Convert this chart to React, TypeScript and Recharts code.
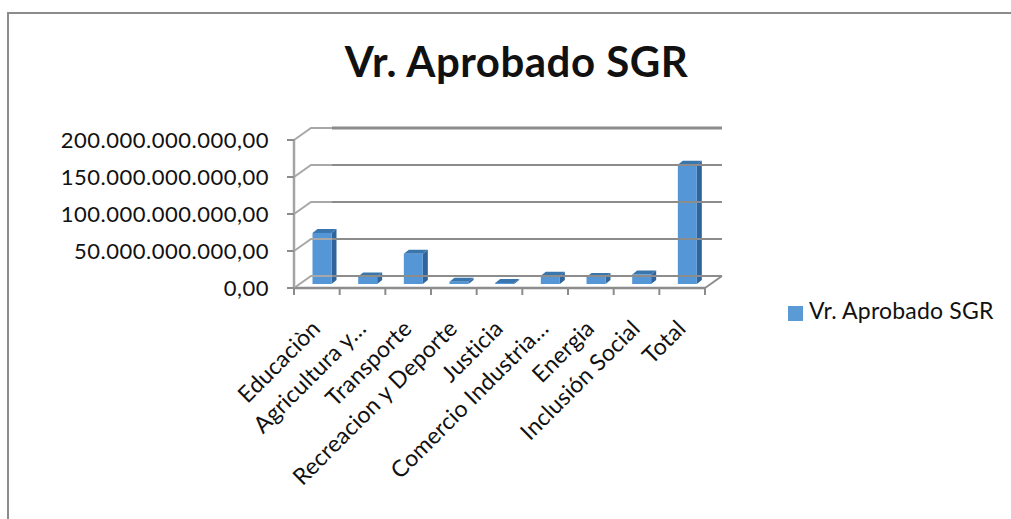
import { BarChart, Bar, XAxis, YAxis, ReferenceLine, Legend } from 'recharts';

const categories = [
  'Educaciòn',
  'Agricultura y…',
  'Transporte',
  'Recreacion y Deporte',
  'Justicia',
  'Comercio Industria…',
  'Energia',
  'Inclusión Social',
  'Total',
];
const aprobado = [69e9, 10e9, 41e9, 3e9, 1.5e9, 11e9, 9.5e9, 13e9, 161e9];
const yTicks = [0, 50e9, 100e9, 150e9, 200e9];

const data = categories.map((name, i) => ({ name, aprobado: aprobado[i] }));

const FONT = 'Lato, sans-serif';
const AXIS = '#8c8c8c';

// fake 3D: wall sits up and to the right of the front axes
const WALL_DX = 17;
const WALL_DY = -12;

const formatTick = (v: number) =>
  v.toLocaleString('de-DE', { minimumFractionDigits: 2, maximumFractionDigits: 2 });

const WallLine = (props: any) => {
  const { x1, y1, x2, y2, tick } = props;
  const bx = x1 + WALL_DX;
  const by = y1 + WALL_DY;
  const isTop = tick === yTicks[yTicks.length - 1];
  return (
    <g fill="none">
      <polyline points={`${x1},${y1} ${bx},${by} ${bx + 21},${by}`} stroke="#a8a8a8" strokeWidth={2} />
      <line x1={bx + 21} y1={by} x2={x2 + WALL_DX} y2={y2 + WALL_DY} stroke={AXIS} strokeWidth={isTop ? 3 : 2} />
      {tick === 0 && (
        <line x1={x2} y1={y2} x2={x2 + WALL_DX} y2={y2 + WALL_DY} stroke={AXIS} strokeWidth={2} />
      )}
    </g>
  );
};

const Bar3D = (props: any) => {
  const { x, y, width, height } = props;
  const left = x + 5.5;
  const top = y - 4;
  const right = left + width;
  const bottom = top + height;
  return (
    <g>
      <polygon
        points={`${right},${top} ${right + 5},${top - 4} ${right + 5},${bottom - 4} ${right},${bottom}`}
        fill="#2f659b"
      />
      <polygon
        points={`${left},${top} ${left + 5},${top - 4} ${right + 5},${top - 4} ${right},${top}`}
        fill="#3a76ae"
      />
      <rect x={left} y={top} width={width} height={height} fill="#5596d6" />
    </g>
  );
};

const CategoryTick = (props: any) => {
  const { x, y, index, payload, width } = props;
  const band = width / categories.length;
  const tx = x + 5;
  const ty = y + 42;
  return (
    <g>
      <line x1={x - band / 2} y1={y} x2={x - band / 2} y2={y + 7} stroke={AXIS} strokeWidth={2} />
      {index === categories.length - 1 && (
        <line x1={x + band / 2} y1={y} x2={x + band / 2} y2={y + 7} stroke={AXIS} strokeWidth={2} />
      )}
      <text
        x={tx}
        y={ty}
        textAnchor="end"
        transform={`rotate(-45 ${tx} ${ty})`}
        fontFamily={FONT}
        fontSize={23}
        letterSpacing={0.2}
        fill="#111"
      >
        {payload.value}
      </text>
    </g>
  );
};

export default function App() {
  return (
    <div style={{ position: 'fixed', left: 0, top: 0, width: 1011, height: 519, background: '#fff', overflow: 'hidden' }}>
      <div
        style={{
          position: 'absolute',
          left: 7,
          top: 12,
          right: 0,
          bottom: 0,
          borderTop: '2px solid #8c8c8c',
          borderLeft: '2px solid #8c8c8c',
        }}
      />
      <div
        style={{
          position: 'absolute',
          left: 0,
          width: 1033,
          top: 36,
          textAlign: 'center',
          fontFamily: FONT,
          fontWeight: 700,
          fontSize: 42,
          letterSpacing: 0.5,
          lineHeight: '50px',
          color: '#111',
        }}
      >
        Vr. Aprobado SGR
      </div>
      <div style={{ position: 'absolute', left: 0, top: 0 }}>
        <BarChart
          width={1011}
          height={519}
          data={data}
          margin={{ top: 140, right: 86, bottom: 151, left: 0 }}
        >
          <XAxis
            dataKey="name"
            interval={0}
            height={80}
            axisLine={{ stroke: AXIS, strokeWidth: 2.5 }}
            tickLine={false}
            tickSize={0}
            tickMargin={0}
            tick={<CategoryTick />}
          />
          <YAxis
            width={294}
            domain={[0, 200e9]}
            ticks={yTicks}
            tickFormatter={formatTick}
            axisLine={{ stroke: '#a4a4a4', strokeWidth: 2.5 }}
            tickLine={{ stroke: AXIS, strokeWidth: 2 }}
            tickSize={7}
            tickMargin={18}
            tick={{ fontFamily: FONT, fontSize: 22, letterSpacing: 0.5, fill: '#111' }}
          />
          {yTicks.map((t) => (
            <ReferenceLine key={t} y={t} shape={(p: any) => <WallLine {...p} tick={t} />} />
          ))}
          <Legend
            layout="vertical"
            align="right"
            verticalAlign="top"
            width={220}
            iconType="square"
            iconSize={15}
            wrapperStyle={{ left: 788, top: 296, right: 'auto', fontFamily: FONT, fontSize: 23, color: '#111' }}
            formatter={(value: string) => <span style={{ color: '#111', marginLeft: 2, letterSpacing: 0.2 }}>{value}</span>}
          />
          <Bar
            dataKey="aprobado"
            name="Vr. Aprobado SGR"
            fill="#5b9bd5"
            barSize={19}
            shape={<Bar3D />}
            isAnimationActive={false}
          />
        </BarChart>
      </div>
    </div>
  );
}
